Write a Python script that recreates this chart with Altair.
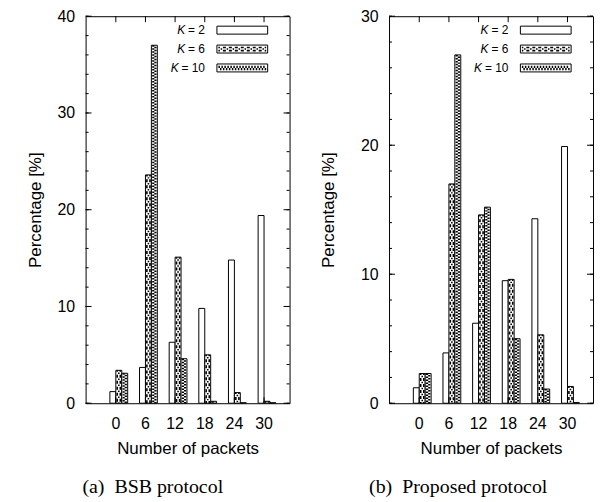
import altair as alt
import pandas as pd

packets = ["0", "6", "12", "18", "24", "30"]
k_labels = ["K2", "K6", "K10"]
k_eqs = ["= 2", "= 6", "= 10"]

bsb_k2 = [1.2, 3.7, 6.3, 9.8, 14.8, 19.4]
bsb_k6 = [3.4, 23.6, 15.1, 5.0, 1.1, 0.2]
bsb_k10 = [3.1, 37.0, 4.6, 0.2, 0.05, 0.05]

prop_k2 = [1.2, 3.9, 6.2, 9.5, 14.3, 19.9]
prop_k6 = [2.3, 17.0, 14.6, 9.6, 5.3, 1.3]
prop_k10 = [2.3, 27.0, 15.2, 5.0, 1.1, 0.05]

W, H = 205, 389
PO, AL = 0.44, 0.59
BW = W / (len(packets) + 2 * PO)
SANS = "Liberation Sans"
SERIF = "Liberation Serif"

# hatch textures: (offset px, stroke width, dash, dash offset)
TEX = {
    "K10": [(-1.1, 2.2, [1.5, 1.5], 0), (1.1, 2.2, [1.5, 1.5], 1.5)],
    "K6": [(-1.55, 1.6, [3, 3], 1.5), (0, 1.6, [1.5, 4.5], 3.75), (1.55, 1.6, [3, 3], 1.5)],
}


def panel(series, ymax, caption, dx, tpad):
    rows = []
    for k, vals in zip(k_labels, series):
        for p, v in zip(packets, vals):
            rows.append({"packets": p, "K": k, "value": v})
    df = pd.DataFrame(rows)
    leg = pd.DataFrame({"K": k_labels, "eq": k_eqs, "k": ["K"] * 3})
    major = list(range(0, ymax + 1, 10))
    minor = list(range(0, ymax + 1, 2))

    xs = alt.Scale(domain=packets, paddingInner=0, paddingOuter=PO, align=AL)
    ys = alt.Scale(domain=[0, ymax], nice=False, zero=True)

    def xo(shift=None):
        if shift is None:
            return alt.Scale(domain=k_labels, paddingInner=0, paddingOuter=1, align=0.75)
        return alt.Scale(domain=k_labels, paddingInner=0, paddingOuter=1, align=0.75,
                         range=[shift, BW + shift])

    base = alt.Chart(df)
    bars = base.mark_bar(fill="white", stroke="black", strokeWidth=1).encode(
        x=alt.X("packets:N", scale=xs, sort=packets,
                axis=alt.Axis(title="Number of packets", labelAngle=0, ticks=False, domain=False,
                              labelPadding=12, titlePadding=10)),
        xOffset=alt.XOffset("K:N", sort=k_labels, scale=xo()),
        y=alt.Y("value:Q", scale=ys,
                axis=alt.Axis(title="Percentage [%]", values=major, ticks=False, domain=False, grid=False,
                              labelPadding=11, titlePadding=tpad)),
    )
    layers = [bars]

    for k, specs in TEX.items():
        for d, sw_, dash, off in specs:
            layers.append(
                base.transform_filter(alt.datum.K == k).mark_rule(
                    color="black", strokeWidth=sw_, strokeDash=dash, strokeDashOffset=off).encode(
                    x=alt.X("packets:N", scale=xs, sort=packets, axis=None),
                    xOffset=alt.XOffset("K:N", sort=k_labels, scale=xo(d)),
                    y=alt.Y("value:Q", scale=ys, axis=None),
                    y2=alt.datum(0),
                )
            )

    # inward ticks on all four sides, drawn as short rules
    ymaj = alt.Chart(pd.DataFrame({"value": major}))
    ymin = alt.Chart(pd.DataFrame({"value": minor}))
    for src, size in ((ymaj, 6), (ymin, 3)):
        for x0, x1 in ((0, size), (W - size, W)):
            layers.append(src.mark_rule(color="black", strokeWidth=1).encode(
                x=alt.value(x0), x2=alt.value(x1), y=alt.Y("value:Q", scale=ys, axis=None)))
    xt = alt.Chart(pd.DataFrame({"packets": packets}))
    for y0, y1 in ((0, 6), (H - 6, H)):
        layers.append(xt.mark_rule(color="black", strokeWidth=1).encode(
            x=alt.X("packets:N", scale=xs, sort=packets, axis=None), y=alt.value(y0), y2=alt.value(y1)))

    # legend
    def ly(shift=0):
        return alt.Y("K:N", sort=k_labels, axis=None,
                     scale=alt.Scale(type="point", padding=0, domain=k_labels, range=[14 + shift, 52 + shift]))

    lb = alt.Chart(leg)
    layers.append(lb.mark_rect(height=8, fill="white", stroke="black", strokeWidth=1).encode(
        x=alt.value(132), x2=alt.value(183), y=ly()))
    for k, specs in TEX.items():
        for d, sw_, dash, off in specs:
            layers.append(lb.transform_filter(alt.datum.K == k).mark_rule(
                color="black", strokeWidth=sw_, strokeDash=dash, strokeDashOffset=off).encode(
                x=alt.value(133.5), x2=alt.value(181.5), y=ly(d)))
    txt = dict(baseline="middle", font=SANS, fontSize=12, color="black")
    layers.append(lb.mark_text(align="right", **txt).encode(x=alt.value(120), y=ly(), text="eq:N"))
    one = lb.transform_filter(alt.datum.K != "K10")
    ten = lb.transform_filter(alt.datum.K == "K10")
    layers.append(one.mark_text(align="right", fontStyle="italic", **txt).encode(x=alt.value(100), y=ly(), text="k:N"))
    layers.append(ten.mark_text(align="right", fontStyle="italic", **txt).encode(x=alt.value(93.5), y=ly(), text="k:N"))

    return alt.layer(*layers).resolve_scale(y="independent", xOffset="independent").resolve_axis(
        x="independent", y="independent").properties(
        width=W, height=H,
        title=alt.TitleParams(caption, orient="bottom", font=SERIF, fontSize=20, fontWeight="normal",
                              color="black", frame="group", dx=dx, offset=20),
    )


left = panel([bsb_k2, bsb_k6, bsb_k10], 40, "(a)\u00a0\u00a0BSB protocol", -35, 13)
right = panel([prop_k2, prop_k6, prop_k10], 30, "(b)\u00a0\u00a0Proposed protocol", -33, 23)

chart = alt.hconcat(left, right, spacing=28).properties(
    padding={"left": 17, "top": -2, "right": 0, "bottom": 0},
    background="white",
).configure_view(stroke="black", strokeWidth=1).configure_axis(
    labelFont=SANS, labelFontSize=16, labelColor="black",
    titleFont=SANS, titleFontSize=17, titleFontWeight="normal", titleColor="black",
)

chart.save("out.html", embed_options={"renderer": "svg", "actions": False})
